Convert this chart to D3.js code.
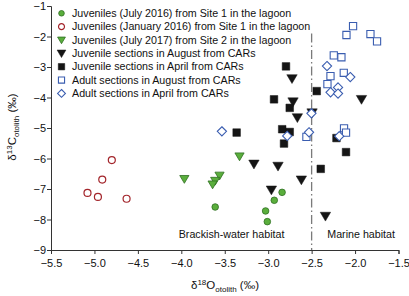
<!DOCTYPE html>
<html><head><meta charset="utf-8">
<script src="https://cdn.jsdelivr.net/npm/d3@7"></script>
<style>
body{margin:0;background:#fff;}
svg text{font-family:"Liberation Sans",Arial,Helvetica,sans-serif;fill:#111;}
</style></head>
<body>
<svg id="chart" width="409" height="296"></svg>
<script>
// ---- data ----
const xTicks = [-5.5,-5.0,-4.5,-4.0,-3.5,-3.0,-2.5,-2.0,-1.5];
const yTicks = [-1,-2,-3,-4,-5,-6,-7,-8,-9];

const juvJuly2016 = [[-3.61,-7.59],[-2.84,-7.11],[-2.93,-7.37],[-3.03,-7.72],[-3.01,-8.07]];
const juvJan2016 = [[-4.80,-6.05],[-4.91,-6.69],[-5.08,-7.13],[-4.96,-7.26],[-4.63,-7.32]];
const juvJuly2017 = [[-3.965,-6.67],[-3.56,-6.56],[-3.61,-6.73],[-3.64,-6.85],[-3.33,-5.93]];
const juvAugCARs = [[-2.726,-3.38],[-2.714,-4.14],[-2.664,-4.66],[-2.495,-4.50],[-1.926,-4.06],
  [-3.164,-6.18],[-2.887,-6.25],[-2.618,-6.70],[-2.963,-7.03],[-2.341,-7.89]];
const juvAprCARs = [[-2.795,-2.98],[-2.441,-3.79],[-2.933,-4.06],[-2.752,-4.34],[-3.363,-5.15],
  [-2.839,-5.04],[-2.752,-5.13],[-2.818,-5.51],[-2.214,-5.33],[-2.104,-5.79],[-2.395,-6.34]];
const adultAugCARs = [[-2.023,-1.66],[-2.099,-1.95],[-1.823,-1.92],[-1.747,-2.16],[-2.245,-2.62],
  [-2.157,-2.68],[-2.283,-3.30],[-2.13,-3.19],[-2.318,-3.56],[-2.127,-5.01],[-2.104,-5.15],[-2.56,-5.29]];
const adultAprCARs = [[-2.323,-2.97],[-2.055,-3.33],[-2.196,-3.67],[-2.282,-3.83],[-2.196,-3.87],
  [-2.502,-4.52],[-2.53,-5.14],[-2.781,-5.26],[-2.182,-5.27],[-3.533,-5.11]];

const seriesNames = [
  "Juveniles (July 2016) from Site 1 in the lagoon",
  "Juveniles (January 2016) from Site 1 in the lagoon",
  "Juveniles (July 2017) from Site 2 in the lagoon",
  "Juvenile sections in August from CARs",
  "Juvenile sections in April from CARs",
  "Adult sections in August from CARs",
  "Adult sections in April from CARs"
];
const seriesData = [juvJuly2016, juvJan2016, juvJuly2017, juvAugCARs, juvAprCARs, adultAugCARs, adultAprCARs];
const boundary = -2.5, boundaryTop = -1.9;
const regionLabels = [{text:"Brackish-water habitat", x:-4.03, y:-8.6},{text:"Marine habitat", x:-2.32, y:-8.6}];

// ---- styles ----
const styles = [
  {shape:"circle", size:3.3, fill:"#5aae3c", stroke:"#2f6e22", sw:0.8},
  {shape:"circle", size:3.5, fill:"#fff", stroke:"#a3252b", sw:1.2},
  {shape:"tri", size:4.6, fill:"#5aae3c", stroke:"#2f6e22", sw:0.8},
  {shape:"tri", size:5.2, fill:"#151515", stroke:"#151515", sw:0.5},
  {shape:"square", size:3.8, fill:"#151515", stroke:"#151515", sw:0.5},
  {shape:"square", size:3.6, fill:"#fff", stroke:"#3a5db0", sw:1.1},
  {shape:"diamond", size:4.6, fill:"#fff", stroke:"#3a5db0", sw:1.1}
];
function shapePath(s, r){
  if(s==="circle") return `M${r},0A${r},${r} 0 1,1 ${-r},0A${r},${r} 0 1,1 ${r},0Z`;
  if(s==="square") return `M${-r},${-r}H${r}V${r}H${-r}Z`;
  if(s==="diamond") return `M0,${-r}L${r},0L0,${r}L${-r},0Z`;
  if(s==="tri") return `M${-r},${-r*0.75}H${r}L0,${r*0.95}Z`;
}

const svg = d3.select("#chart");
const x = d3.scaleLinear().domain([-5.5,-1.5]).range([51,398.5]);
const y = d3.scaleLinear().domain([-1,-9]).range([6,250]);

// axes
const gx = svg.append("g").attr("transform","translate(0,250)")
  .call(d3.axisBottom(x).tickValues(xTicks).tickFormat(d3.format(".1f")).tickSizeOuter(0).tickSize(4));
const gy = svg.append("g").attr("transform","translate(51,0)")
  .call(d3.axisLeft(y).tickValues(yTicks).tickFormat(d3.format("d")).tickSizeOuter(0).tickSize(4));
[gx,gy].forEach(g=>{
  g.select(".domain").attr("stroke","#333").attr("stroke-width",1);
  g.selectAll(".tick line").attr("stroke","#333");
  g.selectAll(".tick text").attr("font-size","11px").attr("fill","#111")
   .attr("font-family","Liberation Sans, Arial, sans-serif");
});
gx.selectAll(".tick text").attr("dy","0.95em");
gy.selectAll(".tick text").attr("x",-5);

// boundary line
svg.append("line").attr("x1",x(boundary)).attr("x2",x(boundary))
  .attr("y1",y(boundaryTop)).attr("y2",y(-9))
  .attr("stroke","#7a7a7a").attr("stroke-width",1.3).attr("stroke-dasharray","9,3,1.5,3");

// region labels
regionLabels.forEach(l=>{
  svg.append("text").attr("x",x(l.x)).attr("y",y(l.y)).attr("font-size","10.7px").text(l.text);
});

// points
seriesData.forEach((data,i)=>{
  const st = styles[i];
  svg.append("g").selectAll("path").data(data).join("path")
    .attr("d",shapePath(st.shape, st.size))
    .attr("transform",d=>`translate(${x(d[0])},${y(d[1])})`)
    .attr("fill",st.fill).attr("stroke",st.stroke).attr("stroke-width",st.sw);
});

// legend
const leg = svg.append("g");
seriesNames.forEach((n,i)=>{
  const st = styles[i];
  const yy = 13.3 + i*13.35;
  leg.append("path").attr("d",shapePath(st.shape, st.size*0.85))
    .attr("transform",`translate(61.5,${yy})`)
    .attr("fill",st.fill).attr("stroke",st.stroke).attr("stroke-width",st.sw);
  leg.append("text").attr("x",72).attr("y",yy).attr("dy","0.35em")
    .attr("font-size","10.7px").text(n);
});

// axis titles
const xt = svg.append("text").attr("x",225).attr("y",289).attr("text-anchor","middle").attr("font-size","11.5px");
xt.append("tspan").text("δ");
xt.append("tspan").attr("font-size","8px").attr("dy","-4").text("18");
xt.append("tspan").attr("dy","4").text("O");
xt.append("tspan").attr("font-size","8px").attr("dy","3").text("otolith");
xt.append("tspan").attr("dy","-3").text(" (‰)");

const yt = svg.append("text").attr("transform","translate(16,127) rotate(-90)").attr("text-anchor","middle").attr("font-size","11.5px");
yt.append("tspan").text("δ");
yt.append("tspan").attr("font-size","8px").attr("dy","-4").text("13");
yt.append("tspan").attr("dy","4").text("C");
yt.append("tspan").attr("font-size","8px").attr("dy","3").text("otolith");
yt.append("tspan").attr("dy","-3").text(" (‰)");
</script>
</body></html>
